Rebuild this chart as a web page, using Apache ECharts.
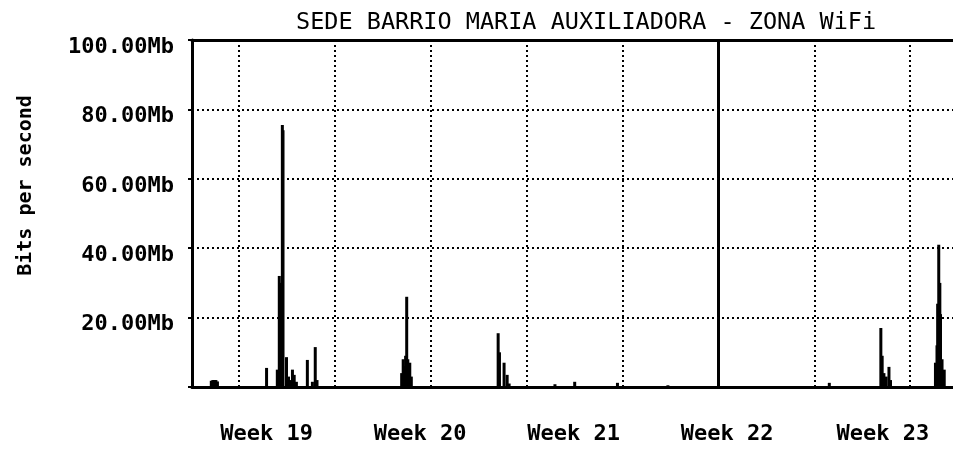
<!DOCTYPE html>
<html>
<head>
<meta charset="utf-8">
<script src="https://cdn.jsdelivr.net/npm/echarts@6/dist/echarts.min.js"></script>
<style>
  html, body { margin: 0; padding: 0; background: #ffffff; }
  #chart { width: 953px; height: 449px; }
</style>
</head>
<body>
<div id="chart"></div>
<script>
// Traffic graph: spikes of throughput over five weeks (x in days, y in Mb/s)
const chartTitle = 'SEDE BARRIO MARIA AUXILIADORA - ZONA WiFi';
const yAxisTitle = 'Bits per second';
const weekLabels = ['Week 19', 'Week 20', 'Week 21', 'Week 22', 'Week 23'];
const weekCenterDays = [3.4, 10.4, 17.4, 24.4, 31.5];
const gridDays = [2.125, 6.5, 10.875, 15.25, 19.625, 24.0, 28.375, 32.75];
const markerDay = 24.0;
const yTicksMb = [0, 20, 40, 60, 80, 100];

const sampleDays = [
  0.88, 0.95, 1.02, 1.09, 1.16,
  3.40, 3.89, 3.98, 4.03, 4.12, 4.15,
  4.31, 4.40, 4.50, 4.58, 4.66, 4.76,
  5.26, 5.49, 5.62, 5.70,
  9.56, 9.63, 9.68, 9.74, 9.79, 9.84, 9.88, 9.93, 10.00,
  13.96, 14.02, 14.23, 14.37, 14.46,
  16.55, 17.45, 19.40, 21.70,
  29.06,
  31.41, 31.47, 31.55, 31.65, 31.78, 31.85,
  33.90, 33.97, 34.00, 34.05, 34.10, 34.13, 34.20, 34.30
];
const trafficMb = [
  1.8, 2.0, 2.0, 2.0, 1.6,
  5.5, 5.0, 32, 30, 75.5, 74,
  8.6, 3.0, 2.0, 5.0, 3.5, 1.5,
  7.8, 1.5, 11.5, 2.0,
  4, 8, 6, 9, 26, 8, 5, 7, 3,
  15.5, 10, 7, 3.5, 1,
  0.8, 1.5, 1.2, 0.5,
  1.2,
  17, 9, 4, 3, 5.8, 2,
  7, 12, 24, 41, 30, 21, 8, 5
];

const mono = 'DejaVu Sans Mono';
const xMin = 0;
const xMax = 34.7;
const chart = echarts.init(document.getElementById('chart'));

chart.setOption({
  animation: false,
  backgroundColor: '#ffffff',
  title: {
    text: chartTitle,
    left: 291,
    top: 6,
    textStyle: { fontFamily: mono, fontSize: 23.5, fontWeight: 'normal', color: '#000' }
  },
  grid: { left: 192, right: -5, top: 40, bottom: 62 },
  xAxis: [{
    type: 'value',
    min: xMin,
    max: xMax,
    axisLine: { show: true, onZero: false, lineStyle: { color: '#000', width: 3 } },
    axisTick: { show: false, customValues: gridDays },
    axisLabel: {
      customValues: weekCenterDays,
      formatter: function (v) {
        const i = weekCenterDays.findIndex(d => Math.abs(d - v) < 1e-6);
        return i >= 0 ? weekLabels[i] : '';
      },
      margin: 36,
      fontFamily: mono, fontSize: 22, fontWeight: 'bold', color: '#000'
    },
    splitLine: { show: true, lineStyle: { color: '#000', width: 2, type: [2, 3] } }
  }, {
    // top frame of the plot
    type: 'value',
    position: 'top',
    min: xMin,
    max: xMax,
    axisLine: { show: true, onZero: false, lineStyle: { color: '#000', width: 3 } },
    axisTick: { show: false },
    axisLabel: { show: false },
    splitLine: { show: false }
  }],
  yAxis: {
    type: 'value',
    min: yTicksMb[0],
    max: yTicksMb[yTicksMb.length - 1],
    interval: 20,
    name: yAxisTitle,
    nameLocation: 'middle',
    nameGap: 156,
    nameTextStyle: { fontFamily: mono, fontSize: 20, fontWeight: 'bold', color: '#000', padding: [0, 0, 0, 56] },
    axisLine: { show: true, lineStyle: { color: '#000', width: 3 } },
    axisTick: { show: true, length: 4, lineStyle: { color: '#000', width: 2 } },
    axisLabel: {
      margin: 18,
      verticalAlign: 'top',
      lineHeight: 14,
      fontFamily: mono, fontSize: 22, fontWeight: 'bold', color: '#000',
      formatter: function (v) { return v === 0 ? '' : v.toFixed(2) + 'Mb'; }
    },
    splitLine: { show: true, lineStyle: { color: '#000', width: 2, type: [2, 3] } }
  },
  series: [{
    type: 'bar',
    xAxisIndex: 0,
    barWidth: 3,
    itemStyle: { color: '#000' },
    data: sampleDays.map((d, i) => [d, trafficMb[i]]),
    markLine: {
      silent: true,
      symbol: 'none',
      label: { show: false },
      lineStyle: { color: '#000', width: 3, type: 'solid' },
      data: [{ xAxis: markerDay }]
    }
  }]
});
</script>
</body>
</html>
